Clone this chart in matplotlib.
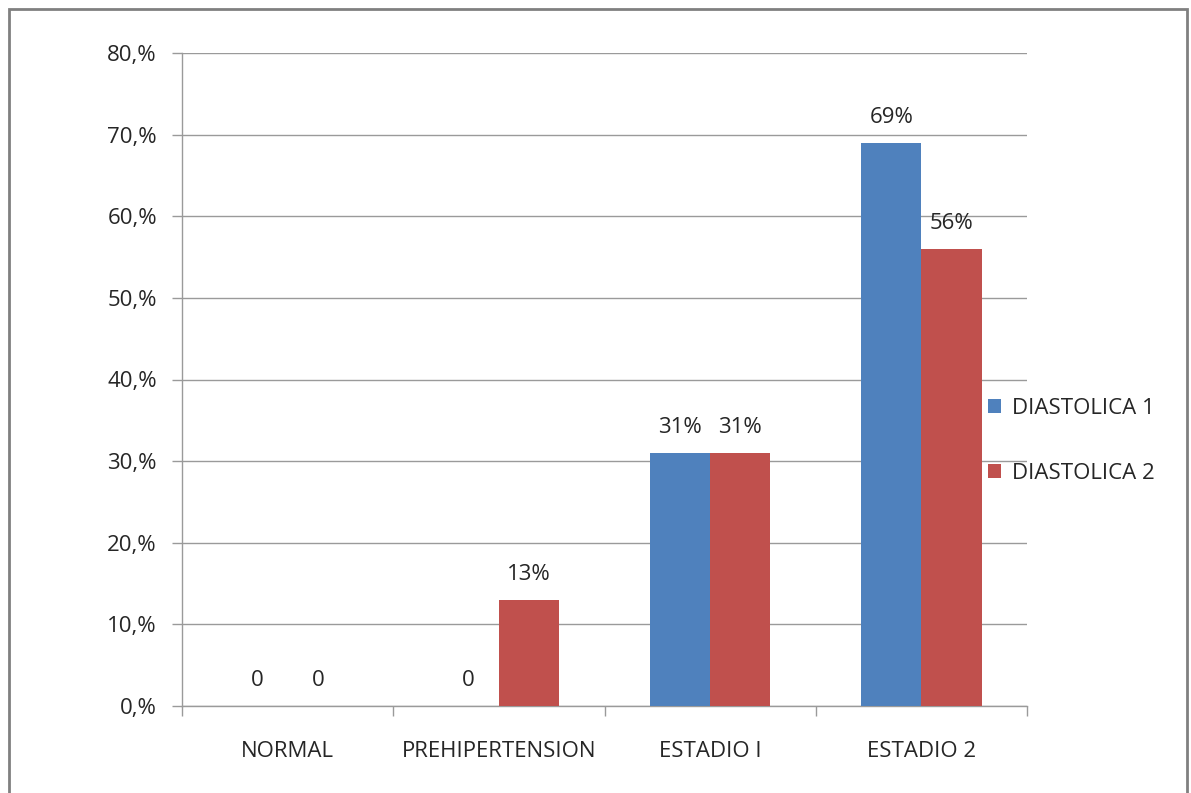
import matplotlib
matplotlib.use("Agg")
import matplotlib.pyplot as plt
from matplotlib.patches import Rectangle
import numpy as np

categories = ["NORMAL", "PREHIPERTENSION", "ESTADIO I", "ESTADIO 2"]
series_names = ["DIASTOLICA 1", "DIASTOLICA 2"]
diastolica1 = [0, 0, 31, 69]
diastolica2 = [0, 13, 31, 56]
ytick_vals = [0, 10, 20, 30, 40, 50, 60, 70, 80]
ytick_labels = ["0,%", "10,%", "20,%", "30,%", "40,%", "50,%", "60,%", "70,%", "80,%"]

plt.rcParams['font.family'] = ['Open Sans', 'DejaVu Sans']
fig = plt.figure(figsize=(11.91, 7.93), dpi=100)
ax = fig.add_axes([182/1191, 1-706/793, (1027-182)/1191, (706-53)/793])

txt = "#262626"
gridc = "#9A9A9A"
colors = ["#4F81BD", "#C0504D"]
w = 1/3.5
x = np.arange(len(categories))
for i, (vals, col, name) in enumerate(zip([diastolica1, diastolica2], colors, series_names)):
    pos = x + (i - 0.5) * w
    ax.bar(pos, vals, width=w, color=col, label=name, zorder=3)
    for p, v in zip(pos, vals):
        lab = "0" if v == 0 else f"{v}%"
        ax.annotate(lab, (p, v), xytext=(0, 18.5), textcoords="offset points",
                    ha="center", va="center", fontsize=16, color=txt)

ax.set_xlim(-0.5, len(categories) - 0.5)
ax.set_ylim(0, 80)
ax.set_yticks(ytick_vals)
ax.set_yticklabels(ytick_labels, fontsize=16, color=txt)
ax.grid(axis="y", color=gridc, linewidth=1, zorder=0)
ax.set_xticks(x)
ax.set_xticklabels(categories, fontsize=16, color=txt)
ax.set_xticks(np.arange(-0.5, len(categories) + 0.5, 1), minor=True)
ax.tick_params(axis="x", which="major", length=0, pad=25)
ax.tick_params(axis="x", which="minor", length=7, color=gridc, width=1)
ax.tick_params(axis="y", length=7, color=gridc, width=1, pad=11)
for s in ["top", "right"]:
    ax.spines[s].set_visible(False)
for s in ["left", "bottom"]:
    ax.spines[s].set_color(gridc)
    ax.spines[s].set_linewidth(1)

leg = ax.legend(loc="center left", bbox_to_anchor=(988/1191, 1 - 441/793),
                bbox_transform=fig.transFigure, frameon=False, fontsize=16,
                handlelength=0.6, handleheight=0.6, handletextpad=0.5,
                labelspacing=2.0, borderpad=0, borderaxespad=0)
for t in leg.get_texts():
    t.set_color(txt)

fig.patches.append(Rectangle((9/1191, -0.05), (1187-9)/1191, 1 - 9/793 + 0.05,
                             transform=fig.transFigure, fill=False,
                             edgecolor="#808080", linewidth=2))

fig.savefig("out.png", dpi=100)
